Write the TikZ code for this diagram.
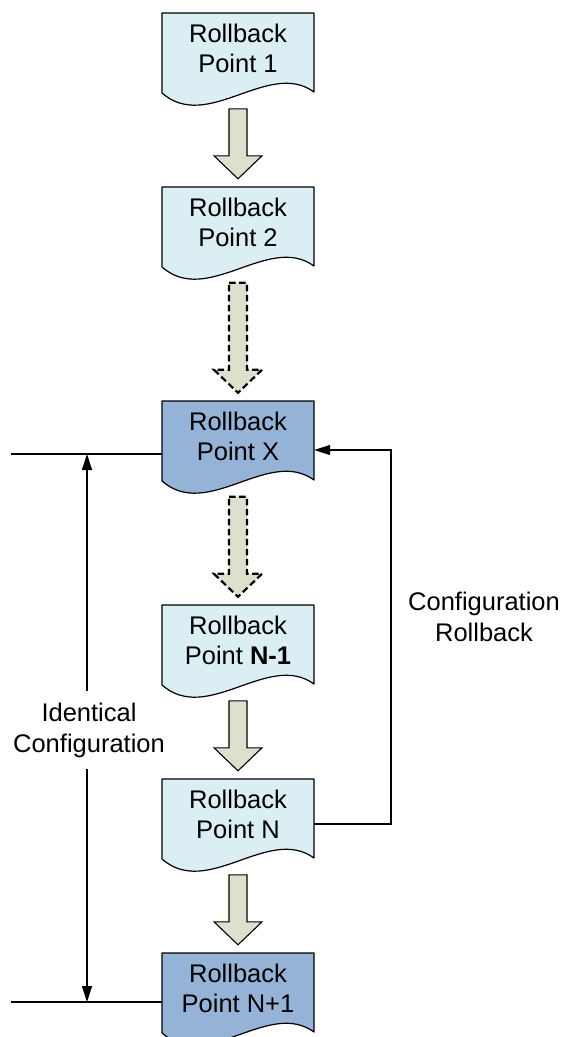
\documentclass[tikz,border=0pt]{standalone}
\usepackage{fontspec}
\setmainfont{Liberation Sans}
\usetikzlibrary{arrows.meta,calc}
\definecolor{doclight}{HTML}{DAEEF3}
\definecolor{docdark}{HTML}{95B3D7}
\definecolor{arrfill}{RGB}{220,224,204}
\tikzset{
  docline/.style={draw=black, line width=1.2pt, line join=round},
  doctext/.style={rectangle, minimum width=152pt, minimum height=70pt, inner sep=0pt, align=center, font=\fontsize{25.5}{30}\selectfont},
  blocksolid/.style={draw=black, fill=arrfill, line width=1.1pt, line join=miter},
  blockdashed/.style={draw=black, fill=arrfill, line width=2.2pt, dash pattern=on 6.5pt off 3.5pt, line join=miter},
  conn/.style={draw=black, line width=1.3pt},
  tip/.style={-{Triangle[length=16pt,width=10pt]}},
  lbl/.style={align=center, font=\fontsize{25.5}{31}\selectfont, inner sep=0pt}
}
\newcommand\rbdoc[4]{%
  \filldraw[docline, fill=#3] (162,#2) -- (314,#2) -- (314,#2+79)
    .. controls (268.4,#2+46) and (207.6,#2+120) .. (162,#2+80) -- cycle;
  \node[doctext] (#1) at (238,#2+35) {#4};}
\newcommand\blockarr[3]{%
  \path[#1] let \p1=(#2.north), \p2=(#3.north) in
    ({\x1-9pt},{\y1-96pt}) -- ({\x1+9pt},{\y1-96pt}) -- ({\x1+9pt},{\y2+31pt})
    -- ({\x1+24pt},{\y2+31pt}) -- ({\x1},{\y2+8pt}) -- ({\x1-24pt},{\y2+31pt})
    -- ({\x1-9pt},{\y2+31pt}) -- cycle;}
\begin{document}
\begin{tikzpicture}[x=1pt,y=-1pt]
\useasboundingbox (0,0) rectangle (561,1037);
\rbdoc{p1}{13}{doclight}{Rollback\\Point 1}
\rbdoc{p2}{187}{doclight}{Rollback\\Point 2}
\rbdoc{px}{401}{docdark}{Rollback\\Point X}
\rbdoc{pnm}{605}{doclight}{Rollback\\Point \textbf{N-1}}
\rbdoc{pn}{779}{doclight}{Rollback\\Point N}
\rbdoc{pnp}{953}{docdark}{Rollback\\Point N+1}
\blockarr{blocksolid}{p1}{p2}
\blockarr{blockdashed}{p2}{px}
\blockarr{blockdashed}{px}{pnm}
\blockarr{blocksolid}{pnm}{pn}
\blockarr{blocksolid}{pn}{pnp}
% left reference lines
\coordinate (la) at (11,454);
\coordinate (lb) at (11,1002);
\draw[conn] (la) -- (la -| px.west);
\draw[conn] (lb) -- (lb -| pnp.west);
\coordinate (da) at (87,454);
\coordinate (db) at (87,1002);
\draw[conn, {Triangle[length=16pt,width=10pt]}-{Triangle[length=16pt,width=10pt]}] (da) -- (db);
\node[lbl, fill=white, inner ysep=12pt, inner xsep=2pt] (idc) at (89,730) {Identical\\Configuration};
% rollback loop
\coordinate (ra) at (391,824);
\coordinate (rb) at (391,450);
\draw[conn, tip] (ra -| pn.east) -- (ra) -- (rb) -- (rb -| px.east);
\node[lbl] (crb) at (484,617) {Configuration\\Rollback};
\end{tikzpicture}
\end{document}
